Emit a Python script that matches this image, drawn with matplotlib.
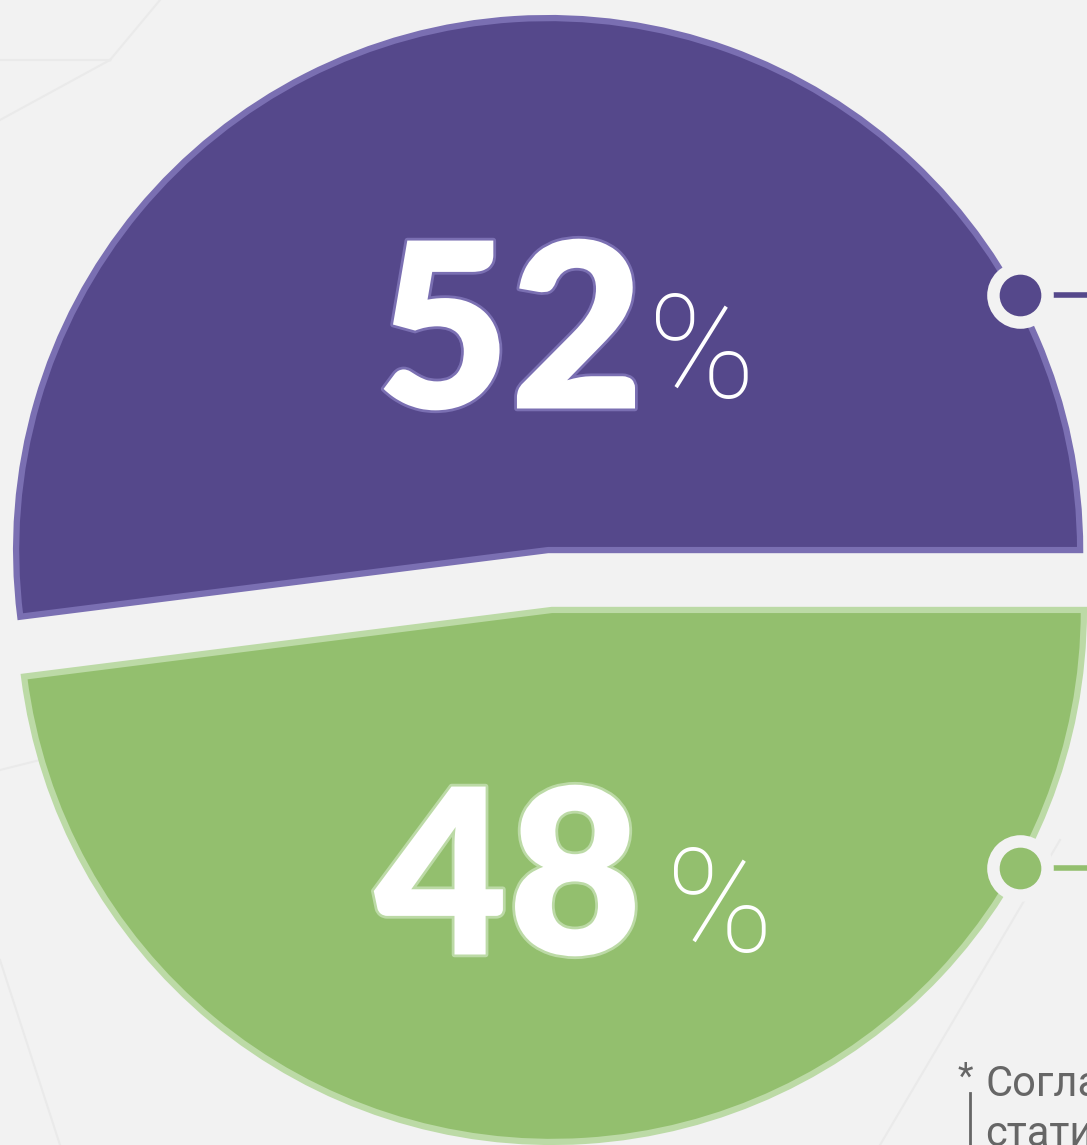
import matplotlib
matplotlib.use("Agg")
import matplotlib.pyplot as plt
import matplotlib.patheffects as pe

# Data
categories = ["Группа A", "Группа B"]
shares = [52, 48]
labels = ["52", "48"]
colors = ["#55488b", "#93bf6e"]
edge_colors = ["#7a6fb2", "#bcdaa6"]
footnote = ["Согласно", "статистике"]

W, H = 1087, 1145
fig = plt.figure(figsize=(W / 100, H / 100), dpi=100)
fig.patch.set_facecolor("#f2f2f2")
ax = fig.add_axes([0, 0, 1, 1])
ax.set_xlim(0, W)
ax.set_ylim(0, H)
ax.set_aspect("equal")
ax.axis("off")
ax.set_facecolor("#f2f2f2")

# faint background network texture
bg_lines = [((0, 1145 - 120), (110, 1145 - 60)), ((110, 1145 - 60), (160, 1145 - 0)),
            ((0, 1145 - 60), (110, 1145 - 60)), ((880, 1145 - 1145), (1060, 1145 - 840)),
            ((0, 1145 - 960), (60, 1145 - 1145)), ((0, 1145 - 770), (40, 1145 - 760))]
for (x0, y0), (x1, y1) in bg_lines:
    ax.plot([x0, x1], [y0, y1], color="#eaeaea", lw=1.5, zorder=0)

cx, cy, R = 550, H - 580, 532
gap = 30
wedges, _ = ax.pie(shares, colors=colors, startangle=0, counterclock=True,
                   center=(cx, cy), radius=R, explode=[gap, gap],
                   wedgeprops=dict(linewidth=0))
for w, ec in zip(wedges, edge_colors):
    w.set_edgecolor(ec)
    w.set_linewidth(4.5)
    w.set_joinstyle("miter")
ax.set_xlim(0, W)
ax.set_ylim(0, H)

# Big percentage labels
big_pos = [(510, H - 341), (508, H - 887)]
pct_pos = [(648, H - 358), (666, H - 912)]
for lab, (bx, by), (px, py), col in zip(labels, big_pos, pct_pos, edge_colors):
    ax.text(bx, by, lab, fontsize=166, fontweight="heavy", family="Lato",
            color="white", ha="center", va="center", zorder=5,
            path_effects=[pe.withStroke(linewidth=4, foreground=col)])
    ax.text(px, py, "%", fontsize=104, fontweight="light", family="Roboto",
            color="white", ha="left", va="center", zorder=5)

# Markers with leader lines
marker_y = [H - 295, H - 868]
for my, col in zip(marker_y, colors):
    ax.plot([1040, 1090], [my, my], color=col, lw=4, zorder=4, solid_capstyle="butt")
    ax.scatter([1020], [my], s=2300, color="#f2f2f2", zorder=5, linewidths=0)
    ax.scatter([1020], [my], s=900, color=col, zorder=6, linewidths=0)

# Footnote
ax.text(958, H - 1078, "*", fontsize=26, color="#666666", ha="left", va="center",
        family="Roboto", zorder=5)
ax.text(985, H - 1085, footnote[0], fontsize=30, color="#666666", ha="left",
        va="center", family="Roboto", zorder=5)
ax.text(985, H - 1135, footnote[1], fontsize=30, color="#666666", ha="left",
        va="center", family="Roboto", zorder=5)
ax.plot([970, 970], [H - 1093, 0], color="#666666", lw=2, zorder=5)

fig.savefig("out.png", dpi=100, facecolor=fig.get_facecolor())
